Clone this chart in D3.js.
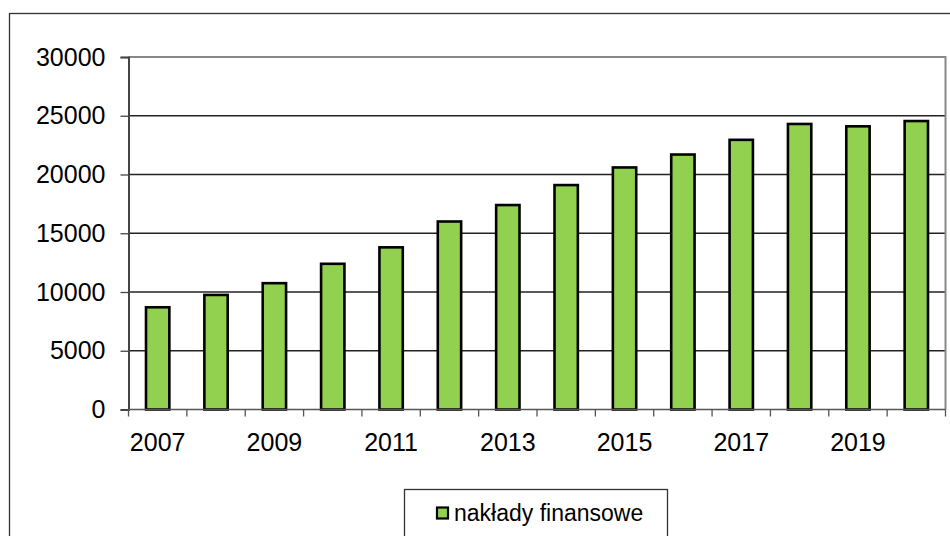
<!DOCTYPE html>
<html>
<head>
<meta charset="utf-8">
<script src="https://cdn.jsdelivr.net/npm/d3@7"></script>
<style>
  body { margin: 0; background: #fff; }
  svg { display: block; font-family: "Liberation Sans", Arial, sans-serif; }
</style>
</head>
<body>
<div id="chart"></div>
<script>
// data
const years = [2007, 2008, 2009, 2010, 2011, 2012, 2013, 2014, 2015, 2016, 2017, 2018, 2019, 2020];
const values = [8700, 9750, 10750, 12400, 13800, 16000, 17400, 19100, 20600, 21700, 22950, 24300, 24100, 24550];
const yTicks = [0, 5000, 10000, 15000, 20000, 25000, 30000];
const seriesName = "nakłady finansowe";

const W = 950, H = 536;
const plot = { left: 128.5, top: 57, right: 945.5, bottom: 409.5 };

const svg = d3.select("#chart").append("svg")
  .attr("width", W).attr("height", H);

// outer chart frame (runs off the right and bottom edge)
svg.append("rect")
  .attr("x", 9.5).attr("y", 13.5)
  .attr("width", W + 10).attr("height", H + 10)
  .attr("fill", "none").attr("stroke", "#333").attr("stroke-width", 1.3);

const x = d3.scaleBand()
  .domain(years)
  .range([plot.left, plot.right])
  .paddingInner(0.6)
  .paddingOuter(0.3);

const y = d3.scaleLinear()
  .domain([0, 30000])
  .range([plot.bottom, plot.top]);

// gridlines
svg.append("g")
  .selectAll("line")
  .data(yTicks.filter(d => d > 0 && d < 30000))
  .enter()
  .append("line")
  .attr("x1", plot.left).attr("x2", plot.right)
  .attr("y1", d => y(d)).attr("y2", d => y(d))
  .attr("stroke", "#222").attr("stroke-width", 1.3);

// plot area border: top and right in grey
svg.append("path")
  .attr("d", `M${plot.left},${plot.top}H${plot.right}V${plot.bottom}`)
  .attr("fill", "none").attr("stroke", "#888").attr("stroke-width", 2);

// bars
svg.append("g")
  .selectAll("rect")
  .data(years)
  .enter()
  .append("rect")
  .attr("x", d => x(d))
  .attr("y", (d, i) => y(values[i]))
  .attr("width", x.bandwidth())
  .attr("height", (d, i) => y(0) - y(values[i]))
  .attr("fill", "#92D050")
  .attr("stroke", "#000")
  .attr("stroke-width", 2.6);

// y axis
const yAxis = d3.axisLeft(y)
  .tickValues(yTicks)
  .tickSize(8)
  .tickPadding(15)
  .tickFormat(d3.format("d"));
const gy = svg.append("g")
  .attr("transform", `translate(${plot.left},0)`)
  .call(yAxis);
gy.select(".domain").attr("stroke", "#444").attr("stroke-width", 2);
gy.selectAll(".tick line").attr("stroke", "#444").attr("stroke-width", 1.3);
gy.selectAll(".tick text")
  .attr("font-size", 25).attr("fill", "#000")
  .attr("font-family", "Liberation Sans, Arial, sans-serif");

// x axis: ticks on band boundaries, labels on every other year
const step = x.step();
const boundaries = d3.range(years.length + 1).map(i => plot.left + i * step);
const gx = svg.append("g");
gx.append("line")
  .attr("x1", plot.left).attr("x2", plot.right)
  .attr("y1", plot.bottom).attr("y2", plot.bottom)
  .attr("stroke", "#555").attr("stroke-width", 1.5);
gx.selectAll("line.tk")
  .data(boundaries)
  .enter()
  .append("line")
  .attr("class", "tk")
  .attr("x1", d => d).attr("x2", d => d)
  .attr("y1", plot.bottom).attr("y2", plot.bottom + 7)
  .attr("stroke", "#555").attr("stroke-width", 1.3);
gx.selectAll("text")
  .data(years.filter((d, i) => i % 2 === 0))
  .enter()
  .append("text")
  .attr("x", d => x(d) + x.bandwidth() / 2)
  .attr("y", 451)
  .attr("text-anchor", "middle")
  .attr("font-size", 25)
  .attr("fill", "#000")
  .text(d => d);

// legend
const lg = svg.append("g");
lg.append("rect")
  .attr("x", 404.5).attr("y", 489.5)
  .attr("width", 263).attr("height", 60)
  .attr("fill", "#fff").attr("stroke", "#333").attr("stroke-width", 1.3);
lg.append("rect")
  .attr("x", 437).attr("y", 507.5)
  .attr("width", 11).attr("height", 11)
  .attr("fill", "#92D050").attr("stroke", "#000").attr("stroke-width", 2.2);
lg.append("text")
  .attr("x", 454).attr("y", 521)
  .attr("font-size", 23).attr("fill", "#000")
  .text(seriesName);
</script>
</body>
</html>
